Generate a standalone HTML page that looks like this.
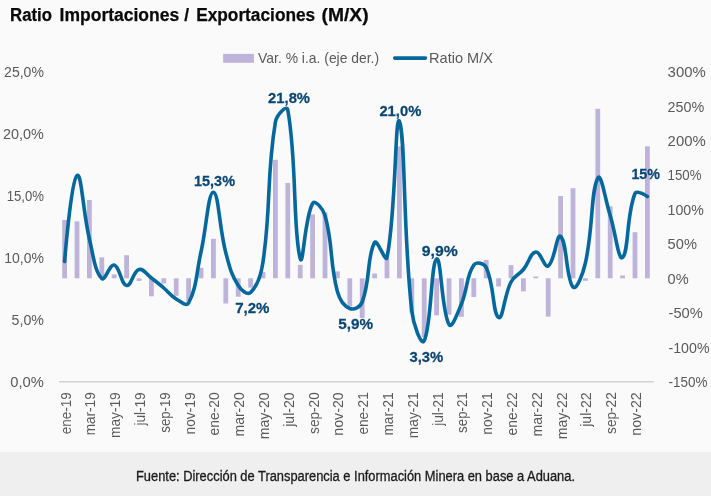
<!DOCTYPE html>
<html lang="es"><head><meta charset="utf-8"><title>Ratio Importaciones / Exportaciones (M/X)</title>
<style>
html,body{margin:0;padding:0;background:#fafafa;}
body{width:711px;height:496px;overflow:hidden;position:relative;font-family:"Liberation Sans",sans-serif;}
svg{position:absolute;left:0;top:0;display:block}
text{font-family:"Liberation Sans",sans-serif;}
.ax text{font-size:14.6px;fill:#5a5a5a;}
.dl text{font-size:14.8px;font-weight:bold;fill:#0a4672;stroke:#0a4672;stroke-width:0.25px;}
</style></head><body>
<svg width="711" height="496" viewBox="0 0 711 496">
<rect x="0" y="0" width="711" height="496" fill="#fafafa"/>
<rect x="0" y="451.8" width="711" height="44.2" fill="#efefef"/>
<g font-size="17.6" font-weight="bold" fill="#0a0a0a" stroke="#0a0a0a" stroke-width="0.25">
<text x="10.1" y="21.1" textLength="41.9" lengthAdjust="spacingAndGlyphs">Ratio</text>
<text x="59.6" y="21.1" textLength="119.6" lengthAdjust="spacingAndGlyphs">Importaciones</text>
<text x="184.2" y="21.1" textLength="4.8" lengthAdjust="spacingAndGlyphs">/</text>
<text x="196.2" y="21.1" textLength="119" lengthAdjust="spacingAndGlyphs">Exportaciones</text>
<text x="321.6" y="21.1" textLength="47" lengthAdjust="spacingAndGlyphs">(M/X)</text>
</g>
<rect x="223.1" y="53.9" width="30.8" height="8.9" fill="#beb4d9"/>
<g class="ax">
<text x="258.1" y="62.8" textLength="121" lengthAdjust="spacingAndGlyphs">Var. % i.a. (eje der.)</text>
<text x="429.1" y="62.8" textLength="63.9" lengthAdjust="spacingAndGlyphs">Ratio M/X</text>
</g>
<line x1="394.7" y1="58.1" x2="425.5" y2="58.1" stroke="#05689c" stroke-width="3.6" stroke-linecap="round"/>
<g fill="#beb4d9"><rect x="62.20" y="220.00" width="4.80" height="58.30"/><rect x="74.60" y="221.30" width="4.80" height="57.00"/><rect x="87.00" y="200.00" width="4.80" height="78.30"/><rect x="99.40" y="257.30" width="4.80" height="21.00"/><rect x="111.80" y="274.40" width="4.80" height="3.90"/><rect x="124.20" y="255.20" width="4.80" height="23.10"/><rect x="136.60" y="278.30" width="4.80" height="2.70"/><rect x="149.00" y="278.30" width="4.80" height="18.00"/><rect x="161.40" y="278.30" width="4.80" height="5.20"/><rect x="173.80" y="278.30" width="4.80" height="17.50"/><rect x="186.20" y="278.30" width="4.80" height="23.20"/><rect x="198.60" y="267.80" width="4.80" height="10.50"/><rect x="211.00" y="238.80" width="4.80" height="39.50"/><rect x="223.40" y="278.30" width="4.80" height="25.20"/><rect x="235.80" y="278.30" width="4.80" height="18.40"/><rect x="248.20" y="278.30" width="4.80" height="9.30"/><rect x="260.60" y="272.10" width="4.80" height="6.20"/><rect x="273.00" y="159.80" width="4.80" height="118.50"/><rect x="285.40" y="183.00" width="4.80" height="95.30"/><rect x="297.80" y="264.80" width="4.80" height="13.50"/><rect x="310.20" y="214.40" width="4.80" height="63.90"/><rect x="322.60" y="212.30" width="4.80" height="66.00"/><rect x="335.00" y="271.40" width="4.80" height="6.90"/><rect x="347.40" y="278.30" width="4.80" height="28.00"/><rect x="359.80" y="278.30" width="4.80" height="39.60"/><rect x="372.20" y="273.50" width="4.80" height="4.80"/><rect x="384.60" y="258.80" width="4.80" height="19.50"/><rect x="397.00" y="146.40" width="4.80" height="131.90"/><rect x="409.40" y="278.30" width="4.80" height="34.30"/><rect x="421.80" y="278.30" width="4.80" height="58.70"/><rect x="434.20" y="278.30" width="4.80" height="37.00"/><rect x="446.60" y="278.30" width="4.80" height="36.40"/><rect x="459.00" y="278.30" width="4.80" height="38.50"/><rect x="471.40" y="278.30" width="4.80" height="18.70"/><rect x="483.80" y="259.80" width="4.80" height="18.50"/><rect x="496.20" y="278.30" width="4.80" height="8.20"/><rect x="508.60" y="265.10" width="4.80" height="13.20"/><rect x="521.00" y="278.30" width="4.80" height="13.10"/><rect x="533.40" y="276.50" width="4.80" height="1.80"/><rect x="545.80" y="278.30" width="4.80" height="38.30"/><rect x="558.20" y="196.00" width="4.80" height="82.30"/><rect x="570.60" y="188.20" width="4.80" height="90.10"/><rect x="583.00" y="278.30" width="4.80" height="2.50"/><rect x="595.40" y="108.80" width="4.80" height="169.50"/><rect x="607.80" y="206.30" width="4.80" height="72.00"/><rect x="620.20" y="275.50" width="4.80" height="2.80"/><rect x="632.60" y="232.20" width="4.80" height="46.10"/><rect x="645.00" y="146.30" width="4.80" height="132.00"/></g>
<line x1="59.1" y1="381.8" x2="653.7" y2="381.8" stroke="#d2d2d2" stroke-width="1.5"/>
<path d="M64.60,261.50 C64.60,261.50 71.03,180.92 77.00,175.50 C81.45,171.47 83.05,212.62 89.40,239.00 C93.46,255.88 94.58,270.93 101.80,278.50 C105.00,281.85 109.69,263.73 114.20,265.00 C120.10,266.67 120.95,284.48 126.60,285.50 C131.37,286.37 133.02,271.31 139.00,269.50 C143.44,268.16 146.34,274.23 151.40,278.00 C156.76,282.00 158.70,283.68 163.80,288.00 C169.11,292.50 170.37,295.47 176.20,299.00 C180.78,301.77 186.53,306.93 188.60,303.00 C196.94,287.19 196.19,273.51 201.00,252.00 C206.60,226.97 208.22,192.05 213.40,192.20 C218.64,192.35 219.16,227.71 225.80,252.70 C229.57,266.89 230.79,273.61 238.20,285.50 C241.21,290.33 247.46,295.48 250.60,292.50 C257.87,285.61 261.02,275.59 263.00,262.00 C271.44,203.98 266.12,178.86 275.40,122.00 C276.54,115.02 286.72,104.05 287.80,110.00 C297.14,161.38 292.64,230.01 300.20,258.50 C303.06,269.28 304.62,217.33 312.60,203.50 C315.04,199.27 323.09,208.73 325.00,215.50 C333.51,245.69 329.22,260.82 337.40,291.50 C339.64,299.88 343.55,305.85 349.80,308.50 C353.96,310.26 360.25,307.19 362.20,302.00 C370.67,279.47 366.71,256.66 374.60,242.50 C377.13,237.97 385.70,263.84 387.00,257.50 C396.12,212.94 395.04,111.90 399.40,121.30 C405.46,134.37 402.90,232.19 411.80,311.00 C413.31,324.38 421.28,346.93 424.20,340.80 C431.69,325.09 430.83,262.79 436.60,259.00 C441.25,255.95 441.34,310.60 449.00,324.50 C451.75,329.50 457.55,313.23 461.40,304.00 C467.97,288.24 465.84,276.71 473.80,265.00 C476.26,261.38 484.15,263.15 486.20,267.50 C494.56,285.20 492.58,313.98 498.60,317.50 C503.00,320.07 503.91,295.73 511.00,282.00 C514.32,275.57 518.70,275.18 523.40,269.50 C529.12,262.58 530.24,252.79 535.80,252.00 C540.65,251.32 544.37,268.42 548.20,266.00 C554.79,261.83 556.63,232.94 560.60,236.30 C567.04,241.76 566.14,279.61 573.00,287.00 C576.55,290.82 582.91,273.95 585.40,263.00 C593.32,228.17 590.66,191.67 597.80,178.00 C601.08,171.72 605.26,199.67 610.20,215.50 C615.68,233.06 618.41,261.21 622.60,257.50 C628.83,251.97 626.29,214.89 635.00,193.50 C636.71,189.31 647.40,196.60 647.40,196.60" fill="none" stroke="#05689c" stroke-width="3.6" stroke-linecap="round" stroke-linejoin="round"/>
<g class="ax"><text transform="translate(43.9,387.05) scale(1,1.035)" text-anchor="end" textLength="33.6" lengthAdjust="spacingAndGlyphs">0,0%</text><text transform="translate(43.9,325.05) scale(1,1.035)" text-anchor="end" textLength="32.3" lengthAdjust="spacingAndGlyphs">5,0%</text><text transform="translate(43.9,263.05) scale(1,1.035)" text-anchor="end" textLength="39.6" lengthAdjust="spacingAndGlyphs">10,0%</text><text transform="translate(43.9,201.05) scale(1,1.035)" text-anchor="end" textLength="37.2" lengthAdjust="spacingAndGlyphs">15,0%</text><text transform="translate(43.9,139.05) scale(1,1.035)" text-anchor="end" textLength="40.8" lengthAdjust="spacingAndGlyphs">20,0%</text><text transform="translate(43.9,77.05) scale(1,1.035)" text-anchor="end" textLength="39.8" lengthAdjust="spacingAndGlyphs">25,0%</text><text transform="translate(668.50,387.05) scale(1,1.035)" textLength="38.9" lengthAdjust="spacingAndGlyphs">-150%</text><text transform="translate(668.50,352.61) scale(1,1.035)" textLength="41.0" lengthAdjust="spacingAndGlyphs">-100%</text><text transform="translate(668.50,318.17) scale(1,1.035)" textLength="34.3" lengthAdjust="spacingAndGlyphs">-50%</text><text transform="translate(667.60,283.73) scale(1,1.035)" textLength="21.1" lengthAdjust="spacingAndGlyphs">0%</text><text transform="translate(667.60,249.29) scale(1,1.035)" textLength="29.3" lengthAdjust="spacingAndGlyphs">50%</text><text transform="translate(667.60,214.85) scale(1,1.035)" textLength="36.2" lengthAdjust="spacingAndGlyphs">100%</text><text transform="translate(667.60,180.41) scale(1,1.035)" textLength="33.9" lengthAdjust="spacingAndGlyphs">150%</text><text transform="translate(667.60,145.97) scale(1,1.035)" textLength="38.1" lengthAdjust="spacingAndGlyphs">200%</text><text transform="translate(667.60,111.53) scale(1,1.035)" textLength="36.7" lengthAdjust="spacingAndGlyphs">250%</text><text transform="translate(667.60,77.09) scale(1,1.035)" textLength="38.1" lengthAdjust="spacingAndGlyphs">300%</text></g>
<g class="ax xl"><text transform="translate(70.50,392.3) rotate(-90) scale(1,1.04)" text-anchor="end" textLength="42.0" lengthAdjust="spacingAndGlyphs">ene-19</text><text transform="translate(95.30,392.3) rotate(-90) scale(1,1.04)" text-anchor="end" textLength="43.0" lengthAdjust="spacingAndGlyphs">mar-19</text><text transform="translate(120.10,392.3) rotate(-90) scale(1,1.04)" text-anchor="end" textLength="45.7" lengthAdjust="spacingAndGlyphs">may-19</text><text transform="translate(144.90,392.3) rotate(-90) scale(1,1.04)" text-anchor="end" textLength="33.3" lengthAdjust="spacingAndGlyphs">jul-19</text><text transform="translate(169.70,392.3) rotate(-90) scale(1,1.04)" text-anchor="end" textLength="40.4" lengthAdjust="spacingAndGlyphs">sep-19</text><text transform="translate(194.50,392.3) rotate(-90) scale(1,1.04)" text-anchor="end" textLength="42.2" lengthAdjust="spacingAndGlyphs">nov-19</text><text transform="translate(219.30,392.3) rotate(-90) scale(1,1.04)" text-anchor="end" textLength="43.2" lengthAdjust="spacingAndGlyphs">ene-20</text><text transform="translate(244.10,392.3) rotate(-90) scale(1,1.04)" text-anchor="end" textLength="44.2" lengthAdjust="spacingAndGlyphs">mar-20</text><text transform="translate(268.90,392.3) rotate(-90) scale(1,1.04)" text-anchor="end" textLength="46.9" lengthAdjust="spacingAndGlyphs">may-20</text><text transform="translate(293.70,392.3) rotate(-90) scale(1,1.04)" text-anchor="end" textLength="34.5" lengthAdjust="spacingAndGlyphs">jul-20</text><text transform="translate(318.50,392.3) rotate(-90) scale(1,1.04)" text-anchor="end" textLength="41.6" lengthAdjust="spacingAndGlyphs">sep-20</text><text transform="translate(343.30,392.3) rotate(-90) scale(1,1.04)" text-anchor="end" textLength="43.4" lengthAdjust="spacingAndGlyphs">nov-20</text><text transform="translate(368.10,392.3) rotate(-90) scale(1,1.04)" text-anchor="end" textLength="42.2" lengthAdjust="spacingAndGlyphs">ene-21</text><text transform="translate(392.90,392.3) rotate(-90) scale(1,1.04)" text-anchor="end" textLength="43.2" lengthAdjust="spacingAndGlyphs">mar-21</text><text transform="translate(417.70,392.3) rotate(-90) scale(1,1.04)" text-anchor="end" textLength="45.9" lengthAdjust="spacingAndGlyphs">may-21</text><text transform="translate(442.50,392.3) rotate(-90) scale(1,1.04)" text-anchor="end" textLength="33.5" lengthAdjust="spacingAndGlyphs">jul-21</text><text transform="translate(467.30,392.3) rotate(-90) scale(1,1.04)" text-anchor="end" textLength="40.6" lengthAdjust="spacingAndGlyphs">sep-21</text><text transform="translate(492.10,392.3) rotate(-90) scale(1,1.04)" text-anchor="end" textLength="42.4" lengthAdjust="spacingAndGlyphs">nov-21</text><text transform="translate(516.90,392.3) rotate(-90) scale(1,1.04)" text-anchor="end" textLength="43.2" lengthAdjust="spacingAndGlyphs">ene-22</text><text transform="translate(541.70,392.3) rotate(-90) scale(1,1.04)" text-anchor="end" textLength="44.2" lengthAdjust="spacingAndGlyphs">mar-22</text><text transform="translate(566.50,392.3) rotate(-90) scale(1,1.04)" text-anchor="end" textLength="46.9" lengthAdjust="spacingAndGlyphs">may-22</text><text transform="translate(591.30,392.3) rotate(-90) scale(1,1.04)" text-anchor="end" textLength="34.5" lengthAdjust="spacingAndGlyphs">jul-22</text><text transform="translate(616.10,392.3) rotate(-90) scale(1,1.04)" text-anchor="end" textLength="41.6" lengthAdjust="spacingAndGlyphs">sep-22</text><text transform="translate(640.90,392.3) rotate(-90) scale(1,1.04)" text-anchor="end" textLength="43.4" lengthAdjust="spacingAndGlyphs">nov-22</text></g>
<g class="dl"><text transform="translate(214.50,186.10) scale(1,1.01)" text-anchor="middle" textLength="41.0" lengthAdjust="spacingAndGlyphs">15,3%</text><text transform="translate(289.05,102.50) scale(1,1.01)" text-anchor="middle" textLength="41.9" lengthAdjust="spacingAndGlyphs">21,8%</text><text transform="translate(400.35,116.30) scale(1,1.01)" text-anchor="middle" textLength="41.9" lengthAdjust="spacingAndGlyphs">21,0%</text><text transform="translate(252.35,313.10) scale(1,1.01)" text-anchor="middle" textLength="34.3" lengthAdjust="spacingAndGlyphs">7,2%</text><text transform="translate(355.60,328.70) scale(1,1.01)" text-anchor="middle" textLength="34.8" lengthAdjust="spacingAndGlyphs">5,9%</text><text transform="translate(426.40,362.40) scale(1,1.01)" text-anchor="middle" textLength="33.8" lengthAdjust="spacingAndGlyphs">3,3%</text><text transform="translate(439.70,256.10) scale(1,1.01)" text-anchor="middle" textLength="36.0" lengthAdjust="spacingAndGlyphs">9,9%</text><text transform="translate(645.70,178.80) scale(1,1.01)" text-anchor="middle" textLength="28.6" lengthAdjust="spacingAndGlyphs">15%</text></g>
<text x="355.5" y="481.2" font-size="14" fill="#1a1a1a" text-anchor="middle" textLength="439" lengthAdjust="spacingAndGlyphs" stroke="#1a1a1a" stroke-width="0.3">Fuente: Dirección de Transparencia e Información Minera en base a Aduana.</text>
</svg>
</body></html>
